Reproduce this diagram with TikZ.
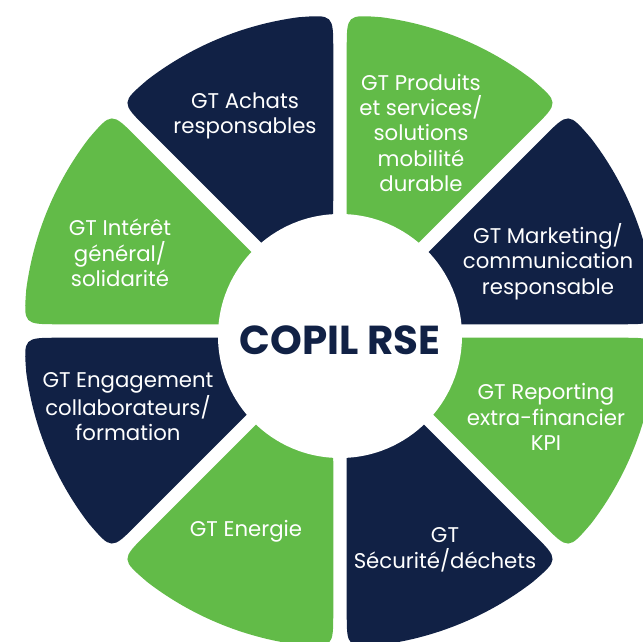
\documentclass[tikz,border=0pt]{standalone}
\usepackage{fontspec}
\setmainfont{Poppins}
\usetikzlibrary{calc}

\definecolor{navy}{RGB}{17,33,69}
\definecolor{leaf}{RGB}{98,187,72}

% one ring sector: #1 start angle, #2 colour (rounded outer corners)
\newcommand{\ringsector}[2]{%
  \fill[#2] (#1+3.87:2) -- ($(#1+1.22:6.33)!0.7cm!(#1+3.87:2)$)
    .. controls (#1+1.22:6.33) .. (#1+7.56:6.33)
    arc[start angle=#1+7.56, end angle=#1+37.44, radius=6.33]
    .. controls (#1+43.78:6.33) .. ($(#1+43.78:6.33)!0.7cm!(#1+41.13:2)$)
    -- (#1+41.13:2) -- cycle;}

\begin{document}
\begin{tikzpicture}[
    gtlabel/.style={text=white, align=center, font=\fontsize{12.1}{14.5}\selectfont},
    hub/.style={circle, fill=white, minimum size=4.88cm, inner sep=0pt}
  ]
  \useasboundingbox (-6.8,-6.22) rectangle (6.06,6.62);

  % Sectors
  \ringsector{0}{navy}
  \ringsector{45}{leaf}
  \ringsector{90}{navy}
  \ringsector{135}{leaf}
  \ringsector{180}{navy}
  \ringsector{225}{leaf}
  \ringsector{270}{navy}
  \ringsector{315}{leaf}

  % Centre
  \node[hub] (hub) at (0,-0.1) {};
  \node[text=navy, font=\fontsize{23}{28}\selectfont\bfseries] (copil) at (0,-0.18) {COPIL RSE};

  % Working groups
  \node[gtlabel] (achats) at (-1.90,4.30) {GT Achats\\responsables};
  \node[gtlabel] (produits) at (1.62,3.96) {GT Produits\\et services/\\solutions\\mobilité\\durable};
  \node[gtlabel] (marketing) at (4.16,1.39) {GT Marketing/\\communication\\responsable};
  \node[gtlabel] (reporting) at (4.12,-1.72) {GT Reporting\\extra-financier\\KPI};
  \node[gtlabel] (securite) at (2.10,-4.38) {GT\\Sécurité/déchets};
  \node[gtlabel] (energie) at (-1.88,-4.00) {GT Energie};
  \node[gtlabel] (engagement) at (-4.24,-1.52) {GT Engagement\\collaborateurs/\\formation};
  \node[gtlabel] (interet) at (-4.40,1.56) {GT Intérêt\\général/\\solidarité};
\end{tikzpicture}
\end{document}
